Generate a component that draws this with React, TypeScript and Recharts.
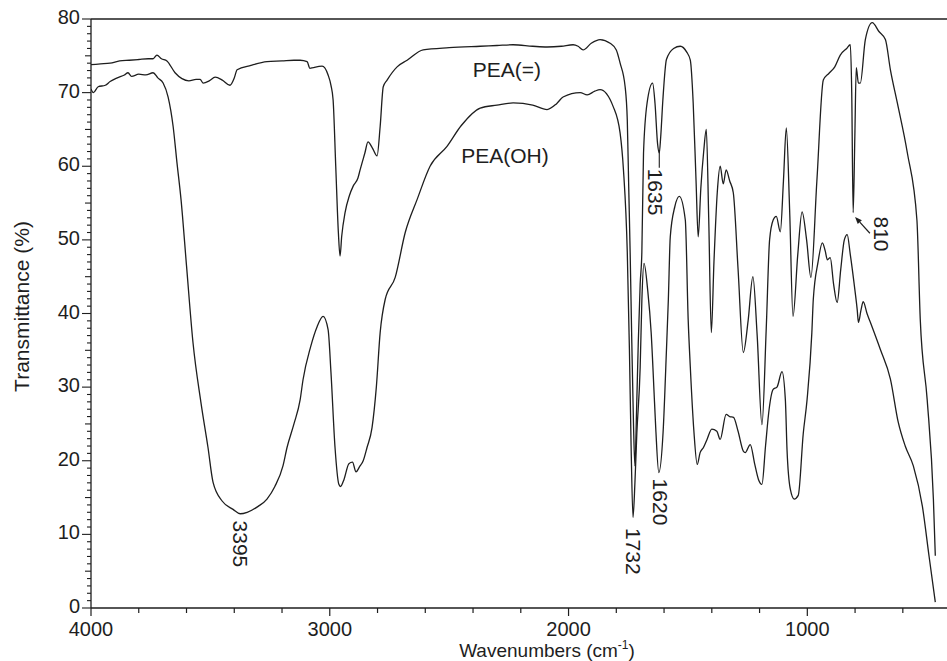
import React from 'react'
import { ComposedChart, Line, XAxis, YAxis, ReferenceLine, ReferenceDot } from 'recharts'

const font = '"Liberation Sans", Arial, Helvetica, sans-serif'
const ink = '#1e1e1e'

// PEA(=) upper trace: wavenumber (cm-1) and transmittance (%)
const eneWn = [
  4000, 3960, 3920, 3880, 3840, 3800, 3760, 3740, 3724, 3705, 3682, 3648, 3619, 3590, 3560, 3543, 3530, 3505,
  3480, 3450, 3418, 3400, 3388, 3330, 3263, 3200, 3150, 3124, 3095, 3083, 3070, 3032, 3007, 2995, 2986, 2975,
  2964, 2957, 2950, 2936, 2918, 2902, 2882, 2873, 2853, 2840, 2822, 2802, 2789, 2776, 2760, 2718, 2676, 2609,
  2500, 2370, 2300, 2232, 2150, 2090, 2030, 1981, 1960, 1939, 1905, 1868, 1826, 1800, 1784, 1763, 1754, 1748,
  1742, 1735, 1728, 1722, 1715, 1708, 1700, 1693, 1686, 1671, 1648, 1638, 1627, 1620, 1614, 1605, 1590, 1560,
  1532, 1505, 1490, 1478, 1466, 1457, 1446, 1434, 1423, 1413, 1402, 1391, 1377, 1365, 1352, 1340, 1325, 1310,
  1290, 1268, 1248, 1228, 1210, 1190, 1172, 1158, 1143, 1130, 1113, 1100, 1088, 1074, 1060, 1040, 1022, 1003,
  985, 960, 933, 910, 885, 862, 835, 820, 814, 808, 801, 795, 786, 778, 757, 728, 700, 673, 652, 623, 581, 541,
  527, 498, 472, 464,
]
const eneT = [
  73.8, 73.9, 74.0, 74.3, 74.4, 74.5, 74.6, 74.6, 75.1, 74.6, 74.3, 72.7, 71.9, 71.6, 71.8, 71.8, 71.3, 71.6,
  72.1, 71.7, 71.0, 72.0, 73.1, 73.7, 74.2, 74.3, 74.4, 74.4, 74.2, 73.3, 73.4, 73.6, 72.4, 71.0, 69.0, 60.0,
  51.0, 47.8, 50.5, 53.7, 56.0, 57.3, 58.4, 59.5, 61.8, 63.3, 62.5, 61.4, 65.4, 70.8, 71.7, 73.5, 74.4, 75.8,
  76.1, 76.3, 76.4, 76.5, 76.3, 76.2, 76.3, 76.5, 76.3, 75.8, 76.7, 77.2, 76.7, 75.8, 74.0, 70.8, 66.3, 57.2,
  48.3, 36.0, 25.0, 19.3, 27.0, 36.0, 44.0, 48.3, 61.8, 68.6, 71.3, 68.6, 63.0, 61.8, 64.0, 69.0, 74.5, 76.0,
  76.3, 75.5, 74.4, 68.6, 58.0, 50.4, 57.0, 62.0, 65.0, 53.0, 37.4, 47.0, 56.5, 60.0, 57.6, 59.5, 58.0, 56.4,
  46.0, 34.7, 39.0, 45.0, 37.0, 24.9, 38.0, 50.0, 52.7, 53.2, 51.1, 58.0, 65.2, 54.0, 39.6, 48.0, 53.8, 50.0,
  44.9, 58.0, 71.7, 72.6, 73.5, 75.1, 76.0, 76.5, 70.0, 53.7, 64.0, 73.4, 71.3, 71.3, 77.2, 79.5, 78.3, 77.2,
  73.1, 68.6, 61.8, 52.7, 39.2, 28.3, 14.8, 7.1,
]

// PEA(OH) lower trace
const ohWn = [
  4000, 3990, 3970, 3940, 3920, 3890, 3860, 3845, 3830, 3800, 3770, 3740, 3720, 3698, 3677, 3656, 3640, 3623,
  3600, 3573, 3540, 3510, 3489, 3450, 3405, 3375, 3346, 3300, 3263, 3230, 3196, 3179, 3150, 3124, 3112, 3080,
  3053, 3028, 3007, 2995, 2978, 2962, 2955, 2940, 2920, 2905, 2890, 2875, 2860, 2844, 2823, 2805, 2789, 2768,
  2726, 2684, 2634, 2580, 2509, 2450, 2370, 2300, 2232, 2150, 2090, 2050, 2023, 1951, 1922, 1890, 1868, 1813,
  1784, 1770, 1754, 1745, 1738, 1730, 1722, 1714, 1700, 1693, 1684, 1668, 1654, 1640, 1634, 1622, 1604, 1590,
  1582, 1574, 1555, 1536, 1511, 1499, 1490, 1475, 1461, 1449, 1435, 1420, 1400, 1379, 1365, 1340, 1325, 1309,
  1290, 1268, 1260, 1239, 1220, 1205, 1190, 1175, 1160, 1143, 1127, 1106, 1092, 1085, 1071, 1055, 1038, 1017,
  1001, 981, 975, 955, 937, 925, 916, 904, 890, 875, 860, 845, 833, 820, 800, 791, 786, 775, 766, 750, 736, 694,
  652, 619, 590, 556, 518, 490, 464,
]
const ohT = [
  70.5, 70.0, 70.8, 71.0, 71.5, 72.0, 72.4, 72.7, 72.2, 72.5, 72.4, 72.7, 72.0, 71.3, 69.4, 65.4, 60.5, 55.5,
  46.5, 36.1, 28.0, 21.8, 17.1, 14.5, 13.4, 12.8, 13.0, 13.8, 14.8, 16.5, 19.3, 21.8, 25.0, 28.3, 31.0, 35.5,
  38.2, 39.6, 37.8, 32.0, 21.8, 16.8, 16.5, 17.5, 19.6, 19.8, 18.5, 19.2, 20.0, 21.8, 24.5, 30.0, 37.4, 41.9,
  44.9, 51.0, 55.5, 60.0, 62.7, 65.5, 67.9, 68.3, 68.6, 68.3, 67.7, 68.5, 69.4, 70.0, 69.7, 70.2, 70.4, 68.1,
  64.5, 59.5, 48.3, 35.0, 22.0, 12.3, 17.0, 23.7, 32.7, 41.7, 46.8, 43.0, 37.4, 28.0, 23.9, 18.4, 23.9, 35.0,
  41.9, 50.4, 54.5, 55.9, 52.7, 39.2, 32.7, 24.0, 19.5, 21.1, 21.8, 22.9, 24.3, 24.0, 22.9, 26.3, 26.0, 25.9,
  24.0, 21.3, 21.1, 22.2, 19.5, 17.5, 16.8, 22.0, 27.0, 29.7, 30.0, 32.1, 28.3, 21.5, 16.1, 14.8, 15.3, 23.7,
  28.3, 37.4, 41.9, 47.0, 49.6, 48.5, 47.3, 47.6, 44.0, 41.5, 46.0, 50.0, 50.7, 48.0, 43.0, 40.5, 38.8, 40.5,
  41.6, 40.0, 38.8, 35.1, 31.1, 25.2, 22.0, 19.3, 13.8, 7.0, 0.8,
]

const xTicks = [4000, 3800, 3600, 3400, 3200, 3000, 2800, 2600, 2400, 2200, 2000, 1800, 1600, 1400, 1200, 1000, 800, 600]
const xLabelled = [4000, 3000, 2000, 1000]
const yLabelled = [0, 10, 20, 30, 40, 50, 60, 70, 80]
const yTicks = Array.from({ length: 81 }, (_, i) => i)

// band labels, placed at their text centre (wavenumber, %T)
const bandLabels = [
  { text: '3395', wn: 3372, t: 8.7 },
  { text: '1732', wn: 1730, t: 7.7 },
  { text: '1620', wn: 1613, t: 14.4 },
  { text: '1635', wn: 1634, t: 56.5 },
  { text: '810', wn: 688, t: 50.8 },
]
const traceNames = [
  { text: 'PEA(=)', wn: 2258, t: 73.1 },
  { text: 'PEA(OH)', wn: 2266, t: 61.5 },
]

const toRows = (wn: number[], t: number[]) => wn.map((w, i) => ({ wn: w, t: t[i] }))
const eneData = toRows(eneWn, eneT)
const ohData = toRows(ohWn, ohT)

const XTick = ({ x, y, payload }: any) => {
  const major = xLabelled.includes(payload.value)
  return (
    <g>
      <line x1={x} y1={y} x2={x} y2={y + (major ? 8 : 5)} stroke={ink} strokeWidth={1.2} />
      {major && (
        <text x={x} y={y + 27.5} textAnchor="middle" fontSize={20} fontFamily={font} fill={ink}>
          {payload.value}
        </text>
      )}
    </g>
  )
}

const YTick = ({ x, y, payload }: any) => {
  const v = payload.value
  const major = yLabelled.includes(v)
  const len = major ? 9 : v % 5 === 0 ? 6 : 4
  return (
    <g>
      <line x1={x - len} y1={y} x2={x} y2={y} stroke={ink} strokeWidth={1.1} />
      {major && (
        <text x={x - 11} y={y + 5} textAnchor="end" fontSize={20} fontFamily={font} fill={ink}>
          {v}
        </text>
      )}
    </g>
  )
}

const YTitle = ({ viewBox }: any) => {
  const cx = viewBox.x + 21
  const cy = viewBox.y + viewBox.height / 2 - 7
  return (
    <text x={cx} y={cy} transform={`rotate(-90 ${cx} ${cy})`} textAnchor="middle" dominantBaseline="central"
      fontSize={21} fontFamily={font} fill={ink}>
      Transmittance (%)
    </text>
  )
}

const XTitle = ({ viewBox }: any) => {
  const cx = viewBox.x + 456
  const cy = viewBox.y + 49
  return (
    <text x={cx} y={cy} textAnchor="middle" fontSize={19} fontFamily={font} fill={ink}>
      Wavenumbers (cm<tspan fontSize={12} dy={-8}>-1</tspan><tspan dy={8}>)</tspan>
    </text>
  )
}

const rotatedText = (text: string) => (p: any) => (
  <text x={p.cx} y={p.cy} transform={`rotate(90 ${p.cx} ${p.cy})`} textAnchor="middle" dominantBaseline="central"
    fontSize={21} fontFamily={font} fill={ink}>
    {text}
  </text>
)

const plainText = (text: string) => (p: any) => (
  <text x={p.cx} y={p.cy} textAnchor="middle" dominantBaseline="central" fontSize={21} fontFamily={font} fill={ink}>
    {text}
  </text>
)

const Arrow = (p: any) => {
  const { x1, y1, x2, y2 } = p
  const a = Math.atan2(y2 - y1, x2 - x1)
  const bx = x2 - 7 * Math.cos(a)
  const by = y2 - 7 * Math.sin(a)
  const px = -Math.sin(a) * 2.8
  const py = Math.cos(a) * 2.8
  return (
    <g>
      <line x1={x1} y1={y1} x2={bx} y2={by} stroke={ink} strokeWidth={1.2} />
      <polygon points={`${x2},${y2} ${bx + px},${by + py} ${bx - px},${by - py}`} fill={ink} />
    </g>
  )
}

export default function App() {
  return (
    <div style={{ position: 'absolute', left: 0, top: 0, width: 947, height: 661, background: '#fff' }}>
      <ComposedChart width={947} height={661} margin={{ top: 19, right: 0, bottom: 0, left: 0 }}>
        <XAxis
          type="number"
          dataKey="wn"
          domain={[415, 4000]}
          reversed
          allowDataOverflow
          ticks={xTicks}
          interval={0}
          height={53}
          tickSize={0}
          tickMargin={0}
          tickLine={false}
          tick={(p: any) => <XTick {...p} />}
          axisLine={{ stroke: ink, strokeWidth: 1.3 }}
          label={(p: any) => <XTitle {...p} />}
        />
        <YAxis
          type="number"
          domain={[0, 80]}
          allowDataOverflow
          ticks={yTicks}
          interval={0}
          width={91}
          tickSize={0}
          tickMargin={0}
          tickLine={false}
          tick={(p: any) => <YTick {...p} />}
          axisLine={{ stroke: ink, strokeWidth: 1.3 }}
          label={(p: any) => <YTitle {...p} />}
        />
        <ReferenceLine y={80} stroke={ink} strokeWidth={1.3} />
        <Line data={eneData} dataKey="t" type="monotone" stroke={ink} strokeWidth={1.3} dot={false} isAnimationActive={false} />
        <Line data={ohData} dataKey="t" type="monotone" stroke={ink} strokeWidth={1.3} dot={false} isAnimationActive={false} />
        <ReferenceLine segment={[{ x: 1620, y: 62.2 }, { x: 1620, y: 59.8 }]} stroke={ink} strokeWidth={1.1} />
        <ReferenceLine segment={[{ x: 738, y: 50.9 }, { x: 800, y: 53.1 }]} shape={(p: any) => <Arrow {...p} />} />
        {bandLabels.map((b) => (
          <ReferenceDot key={b.text} x={b.wn} y={b.t} r={0} shape={rotatedText(b.text)} />
        ))}
        {traceNames.map((n) => (
          <ReferenceDot key={n.text} x={n.wn} y={n.t} r={0} shape={plainText(n.text)} />
        ))}
      </ComposedChart>
    </div>
  )
}
